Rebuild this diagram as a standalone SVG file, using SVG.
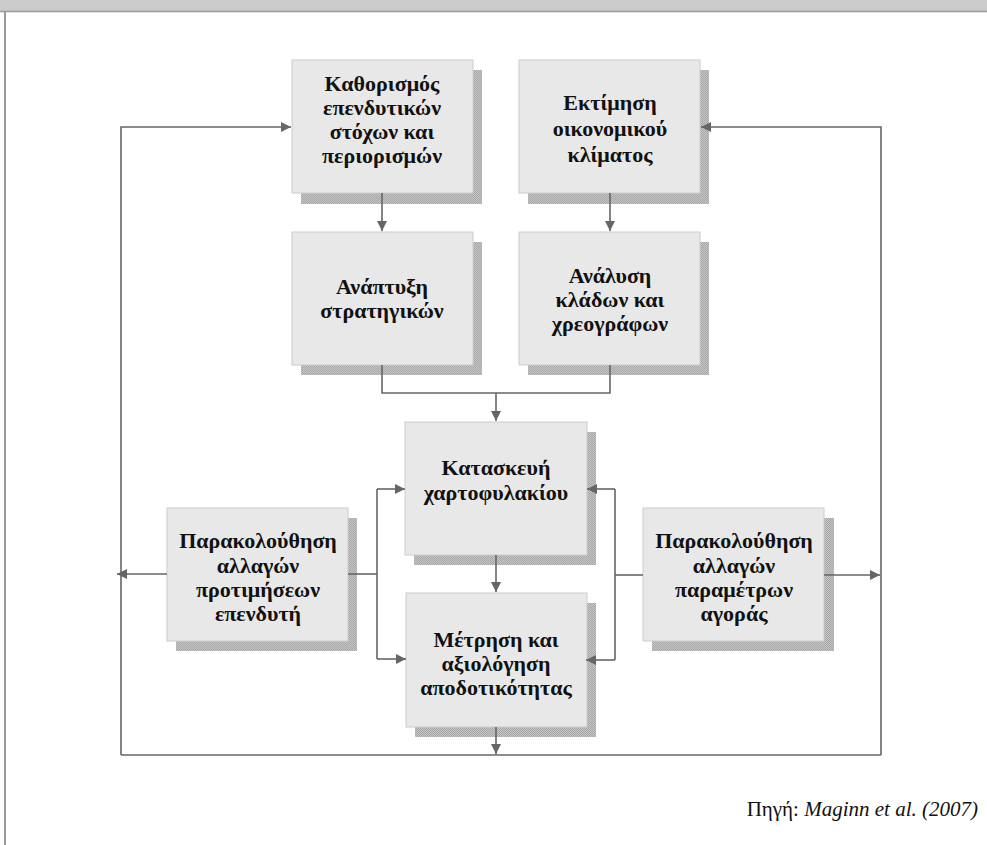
<svg xmlns="http://www.w3.org/2000/svg" width="987" height="845" viewBox="0 0 987 845">
  <style>
    .box { fill: #e8e8e8; stroke: #cccccc; stroke-width: 1; }
    .shadow { fill: url(#hatch); }
    .lbl { font-family: "Liberation Serif", "DejaVu Serif", serif; font-weight: bold; font-size: 22px; fill: #111111; text-anchor: middle; }
    .wire { fill: none; stroke: #666666; stroke-width: 1.6; }
    .arr { marker-end: url(#head); }
    .src { font-family: "Liberation Serif", "DejaVu Serif", serif; font-size: 21px; fill: #111111; }
  </style>
  <defs>
    <pattern id="hatch" width="2" height="2" patternUnits="userSpaceOnUse">
      <rect width="2" height="2" fill="#c4c4c4"/>
      <rect width="1" height="1" fill="#a8a8a8"/>
      <rect x="1" y="1" width="1" height="1" fill="#a8a8a8"/>
    </pattern>
    <marker id="head" markerUnits="userSpaceOnUse" markerWidth="12" markerHeight="10" refX="10" refY="5" orient="auto">
      <path d="M0,0 L10,5 L0,10 Z" fill="#666666"/>
    </marker>
  </defs>

  <!-- page frame -->
  <rect x="0" y="0" width="987" height="11" fill="#cccccc"/>
  <line x1="0" y1="11.5" x2="987" y2="11.5" stroke="#999999" stroke-width="1.5"/>
  <line x1="5" y1="12" x2="5" y2="845" stroke="#999999" stroke-width="2"/>

  <g id="n-objectives">
    <rect class="shadow" x="301" y="70" width="181" height="134"/>
    <rect class="box" x="292" y="60" width="181" height="133"/>
    <text class="lbl" x="382" y="91">Καθορισμός</text>
    <text class="lbl" x="382" y="115">επενδυτικών</text>
    <text class="lbl" x="382" y="139">στόχων και</text>
    <text class="lbl" x="382" y="163">περιορισμών</text>
  </g>

  <g id="n-economy">
    <rect class="shadow" x="528" y="70" width="181" height="134"/>
    <rect class="box" x="519" y="60" width="181" height="133"/>
    <text class="lbl" x="610" y="110">Εκτίμηση</text>
    <text class="lbl" x="610" y="136">οικονομικού</text>
    <text class="lbl" x="610" y="162">κλίματος</text>
  </g>

  <g id="n-strategies">
    <rect class="shadow" x="301" y="242" width="181" height="133"/>
    <rect class="box" x="292" y="232" width="181" height="133"/>
    <text class="lbl" x="382" y="294">Ανάπτυξη</text>
    <text class="lbl" x="382" y="318">στρατηγικών</text>
  </g>

  <g id="n-analysis">
    <rect class="shadow" x="528" y="242" width="181" height="133"/>
    <rect class="box" x="519" y="232" width="181" height="133"/>
    <text class="lbl" x="610" y="283">Ανάλυση</text>
    <text class="lbl" x="610" y="307">κλάδων και</text>
    <text class="lbl" x="610" y="331">χρεογράφων</text>
  </g>

  <g id="n-portfolio">
    <rect class="shadow" x="414" y="432" width="182" height="133"/>
    <rect class="box" x="405" y="422" width="182" height="133"/>
    <text class="lbl" x="496" y="475">Κατασκευή</text>
    <text class="lbl" x="496" y="500">χαρτοφυλακίου</text>
  </g>

  <g id="n-performance">
    <rect class="shadow" x="415" y="603" width="181" height="134"/>
    <rect class="box" x="406" y="593" width="181" height="134"/>
    <text class="lbl" x="496" y="647">Μέτρηση και</text>
    <text class="lbl" x="496" y="671">αξιολόγηση</text>
    <text class="lbl" x="496" y="695">αποδοτικότητας</text>
  </g>

  <g id="n-investor">
    <rect class="shadow" x="176" y="518" width="181" height="133"/>
    <rect class="box" x="167" y="508" width="181" height="133"/>
    <text class="lbl" x="258" y="548">Παρακολούθηση</text>
    <text class="lbl" x="258" y="573">αλλαγών</text>
    <text class="lbl" x="258" y="597">προτιμήσεων</text>
    <text class="lbl" x="258" y="621">επενδυτή</text>
  </g>

  <g id="n-market">
    <rect class="shadow" x="652" y="518" width="182" height="133"/>
    <rect class="box" x="643" y="508" width="181" height="133"/>
    <text class="lbl" x="734" y="548">Παρακολούθηση</text>
    <text class="lbl" x="734" y="573">αλλαγών</text>
    <text class="lbl" x="734" y="597">παραμέτρων</text>
    <text class="lbl" x="734" y="621">αγοράς</text>
  </g>

  <!-- connectors, drawn above the box shadows -->
  <g id="connectors">
    <path class="wire arr" d="M121,755 V127 H291"/>
    <path class="wire arr" d="M881,755 V127 H701"/>
    <path class="wire" d="M121,755 H881"/>
    <path class="wire arr" d="M382,193 V231"/>
    <path class="wire arr" d="M610,193 V231"/>
    <path class="wire" d="M382,365 V393 H610 V365"/>
    <path class="wire arr" d="M496,393 V421"/>
    <path class="wire arr" d="M496,555 V592"/>
    <path class="wire arr" d="M496,727 V754"/>
    <path class="wire arr" d="M167,574 H117"/>
    <path class="wire" d="M348,574 H377"/>
    <path class="wire" d="M377,489 V659"/>
    <path class="wire arr" d="M377,489 H405"/>
    <path class="wire arr" d="M377,659 H406"/>
    <path class="wire" d="M643,575 H615"/>
    <path class="wire" d="M615,489 V660"/>
    <path class="wire arr" d="M615,489 H587"/>
    <path class="wire arr" d="M615,660 H586"/>
    <path class="wire arr" d="M824,575 H880"/>
  </g>

  <text class="src" x="978" y="816" text-anchor="end">Πηγή: <tspan font-style="italic">Maginn et al. (2007)</tspan></text>
</svg>
